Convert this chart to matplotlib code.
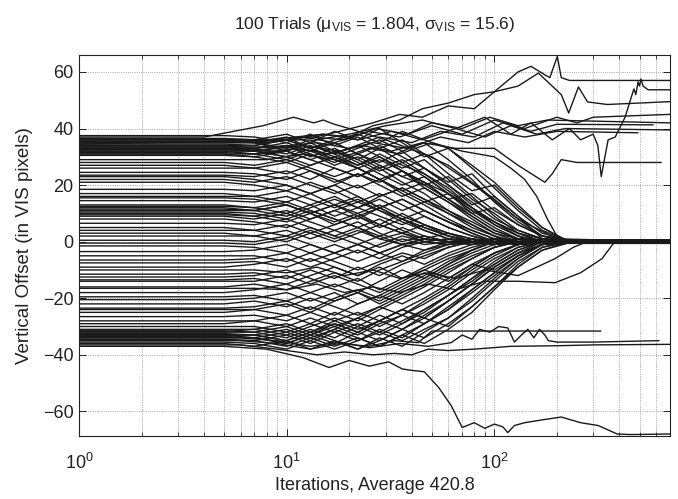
import matplotlib
matplotlib.use("Agg")
import matplotlib.pyplot as plt
from matplotlib.ticker import LogLocator, FixedLocator, NullFormatter

plt.rcParams.update({
    "font.family": ["Liberation Sans", "DejaVu Sans"],
    "mathtext.fontset": "custom",
    "mathtext.rm": "Liberation Sans",
    "mathtext.it": "Liberation Sans:italic",
    "font.size": 13,
})
INK = "#1a1a1a"

# ---- trials that settle near 0 (offsets read at shared iteration points) ----
grid_iters = [1, 5, 7, 10, 13, 17, 22, 28, 36, 46, 60, 78, 100, 130, 170, 230, 700]
conv_offsets = [
    [37.5, 37.5, 37, 35, 38, 34, 37, 33, 36, 31, 27, 21, 15, 8, 2, 0.4, 0.4],
    [36.5, 36.5, 36, 38, 35, 39, 36, 40, 35, 30, 33, 26, 19, 11, 4, 0, 0],
    [36, 36, 35, 33, 36, 32, 29, 33, 28, 31, 24, 18, 20, 12, 5, -0.4, -0.4],
    [35.5, 35.5, 35, 37, 33, 35, 31, 28, 32, 26, 21, 24, 16, 9, 1, 0, 0],
    [35, 35, 35, 32, 35, 31, 34, 30, 26, 29, 22, 15, 10, 4, 1, 0.5, 0.5],
    [34.5, 34.5, 34, 36, 33, 30, 33, 36, 32, 35, 29, 22, 14, 7, 2, 0, 0],
    [34, 34, 33, 34, 30, 33, 29, 25, 28, 23, 17, 11, 7, 2, -1, -0.5, -0.5],
    [33.5, 33.5, 33, 31, 34, 31, 27, 30, 25, 20, 23, 16, 9, 3, 0, 0, 0],
    [33, 33, 33, 35, 32, 35, 31, 34, 30, 26, 20, 13, 16, 9, 3, 0.3, 0.3],
    [33, 33, 32, 30, 27, 30, 26, 22, 25, 19, 14, 8, 3, 1, 0, 0, 0],
    [32.5, 32.5, 32, 34, 31, 28, 31, 27, 23, 26, 20, 14, 8, 4, 1, -0.3, -0.3],
    [32, 32, 31, 32, 29, 32, 28, 24, 20, 23, 17, 10, 5, 1, 0, 0, 0],
    [31.5, 31.5, 31, 29, 32, 29, 26, 29, 25, 21, 15, 17, 11, 6, 2, 0.6, 0.6],
    [31, 31, 30, 32, 29, 26, 23, 26, 21, 17, 11, 6, 2, -1, 1, 0, 0],
    [30.5, 30.5, 30, 28, 31, 27, 30, 26, 29, 24, 19, 12, 6, 2, 0, -0.6, -0.6],
    [34, 34, 34, 36, 33, 36, 38, 35, 39, 36, 33, 27, 21, 13, 5, 0, 0],
    [33, 33, 32, 30, 33, 29, 26, 22, 18, 21, 15, 9, 4, 1, 0, 0.2, 0.2],
    [28, 28, 27, 29, 26, 23, 26, 22, 18, 14, 17, 11, 6, 2, 0, 0, 0],
    [27, 27, 26, 24, 27, 30, 27, 31, 27, 24, 18, 12, 7, 3, 1, -0.2, -0.2],
    [26, 26, 26, 28, 25, 22, 19, 22, 17, 13, 8, 4, 1, 0, 0, 0, 0],
    [24.5, 24.5, 24, 22, 25, 21, 24, 20, 16, 19, 14, 9, 4, 1, -1, 0.4, 0.4],
    [23.5, 23.5, 23, 25, 22, 26, 23, 27, 23, 20, 15, 10, 12, 6, 2, 0, 0],
    [23, 23, 22, 20, 17, 20, 16, 12, 15, 11, 7, 3, 0, 1, 0, 0, 0],
    [22, 22, 21, 23, 20, 17, 20, 16, 19, 15, 10, 5, 2, -1, 0, -0.4, -0.4],
    [21, 21, 20, 18, 21, 18, 14, 17, 13, 9, 5, 2, 0, 1, 0, 0, 0],
    [18.5, 18.5, 18, 20, 17, 20, 24, 21, 25, 21, 17, 12, 7, 3, 0, 0.5, 0.5],
    [17, 17, 16, 14, 17, 13, 10, 13, 9, 6, 3, 1, -1, 0, 0, 0, 0],
    [16, 16, 16, 18, 15, 12, 15, 11, 8, 11, 7, 3, 0, 1, 0, 0, 0],
    [15.5, 15.5, 15, 13, 10, 13, 16, 12, 15, 11, 7, 4, 1, -1, 0, -0.5, -0.5],
    [14.5, 14.5, 14, 16, 13, 16, 12, 9, 6, 9, 5, 2, 0, 0, 0, 0, 0],
    [13, 13, 12, 10, 13, 9, 12, 15, 11, 14, 10, 6, 2, 0, 1, 0.3, 0.3],
    [12.5, 12.5, 12, 14, 11, 8, 5, 8, 4, 1, 3, 0, 1, 0, 0, 0, 0],
    [12, 12, 11, 13, 10, 13, 9, 12, 8, 5, 2, 0, -1, 0, 0, -0.3, -0.3],
    [11.5, 11.5, 11, 9, 12, 15, 12, 16, 19, 15, 11, 7, 3, 0, 0, 0, 0],
    [11, 11, 11, 13, 10, 7, 10, 6, 3, 6, 2, 0, 1, 0, 0, 0, 0],
    [10.5, 10.5, 10, 8, 11, 8, 5, 2, 5, 2, 0, 1, 0, -1, 0, 0.2, 0.2],
    [10, 10, 9, 11, 8, 11, 14, 11, 7, 4, 1, 0, 0, 0, 0, 0, 0],
    [9.5, 9.5, 9, 7, 10, 6, 9, 5, 8, 4, 1, 0, 1, 0, 0, 0, 0],
    [9, 9, 8, 10, 7, 4, 7, 3, 0, 2, 0, -1, 0, 1, 0, -0.2, -0.2],
    [8, 8, 7, 5, 8, 11, 8, 12, 8, 5, 2, 0, 0, 0, 0, 0, 0],
    [6.5, 6.5, 6, 8, 5, 2, 5, 1, 3, 0, 1, 0, -1, 0, 0, 0.6, 0.6],
    [5, 5, 4, 6, 3, 6, 9, 6, 10, 6, 3, 1, 0, 0, 0, 0, 0],
    [4, 4, 4, 2, 5, 2, -1, 2, -1, 1, 0, -1, 0, 1, 0, 0, 0],
    [3, 3, 2, 4, 1, 4, 1, -2, 1, -1, 0, 0, 0, 0, 0, -0.6, -0.6],
    [2, 2, 2, 0, 3, 0, 3, 6, 3, 1, 0, 1, 0, 0, 0, 0, 0],
    [0.5, 0.5, 0, 2, -1, -4, -1, -4, -1, 0, -1, 0, 1, 0, 0, 0.3, 0.3],
    [-0.5, -0.5, -1, 1, 4, 1, 4, 1, -1, 1, 0, 0, 0, 0, 0, 0, 0],
    [-1.5, -1.5, -2, -4, -1, -4, -7, -4, -7, -3, -1, 0, -1, 0, 0, -0.3, -0.3],
    [-3.5, -3.5, -3, -1, -4, -1, -4, -1, 2, 0, 1, 0, 0, 0, 0, 0, 0],
    [-5, -5, -5, -7, -4, -7, -10, -7, -4, -6, -2, 0, 0, -1, 0, 0.4, 0.4],
    [-6.5, -6.5, -6, -4, -7, -4, -1, -4, -1, -3, 0, -1, 0, 0, 0, 0, 0],
    [-7.5, -7.5, -7, -9, -6, -9, -12, -9, -13, -9, -5, -2, 0, 1, 0, -0.4, -0.4],
    [-9, -9, -8, -6, -9, -6, -3, -6, -2, 0, -1, 0, 0, 0, 0, 0, 0],
    [-11.5, -11.5, -11, -13, -10, -13, -9, -12, -8, -5, -2, 0, -1, 0, 0, 0.5, 0.5],
    [-12.5, -12.5, -12, -10, -13, -16, -13, -17, -13, -10, -6, -3, 0, 0, 0, 0, 0],
    [-13.5, -13.5, -13, -15, -12, -9, -12, -8, -5, -8, -4, -1, 0, -1, 0, -0.5, -0.5],
    [-14, -14, -14, -12, -15, -12, -15, -18, -14, -10, -13, -8, -4, -1, 0, 0, 0],
    [-16, -16, -15, -17, -14, -11, -14, -10, -7, -4, -1, 0, 1, 0, 0, 0.2, 0.2],
    [-18, -18, -17, -15, -18, -21, -18, -22, -18, -14, -9, -5, -2, 0, 0, 0, 0],
    [-19.5, -19.5, -19, -21, -18, -15, -18, -14, -10, -13, -8, -3, 0, -1, 0, -0.2, -0.2],
    [-20.5, -20.5, -20, -18, -21, -18, -22, -19, -15, -11, -14, -9, -4, -1, 0, 0, 0],
    [-22, -22, -21, -23, -20, -23, -26, -23, -19, -15, -10, -6, -2, 0, 1, 0.4, 0.4],
    [-23.5, -23.5, -23, -21, -24, -20, -17, -20, -16, -12, -7, -3, 0, 0, 0, 0, 0],
    [-24, -24, -24, -26, -23, -26, -22, -19, -22, -18, -13, -8, -10, -5, -1, -0.4, -0.4],
    [-25, -25, -24, -22, -25, -21, -18, -21, -17, -13, -8, -4, -1, 0, 0, 0, 0],
    [-26.5, -26.5, -26, -28, -25, -28, -31, -28, -24, -27, -21, -15, -9, -4, -1, 0.3, 0.3],
    [-28, -28, -28, -26, -29, -25, -28, -24, -20, -16, -11, -6, -2, 0, 0, 0, 0],
    [-29, -29, -28, -30, -27, -30, -27, -23, -26, -21, -16, -10, -5, -1, 0, -0.3, -0.3],
    [-30, -30, -30, -32, -29, -32, -35, -31, -34, -29, -24, -17, -11, -5, -1, 0, 0],
    [-31, -31, -31, -29, -32, -28, -25, -28, -24, -20, -15, -9, -4, -1, 0, 0.5, 0.5],
    [-31.5, -31.5, -32, -34, -31, -34, -30, -33, -29, -25, -19, -13, -7, -2, 0, 0, 0],
    [-31.8, -31.8, -31, -33, -30, -27, -30, -26, -29, -24, -19, -14, -8, -3, 0, -0.5, -0.5],
    [-32, -32, -32, -30, -33, -29, -32, -28, -24, -27, -21, -15, -9, -4, -1, 0, 0],
    [-32.5, -32.5, -33, -35, -32, -35, -38, -34, -37, -32, -27, -20, -13, -6, -1, 0.2, 0.2],
    [-32.8, -32.8, -33, -31, -34, -31, -27, -30, -26, -22, -17, -11, -6, -2, 0, 0, 0],
    [-33, -33, -34, -36, -33, -36, -32, -35, -31, -27, -30, -23, -16, -8, -2, -0.2, -0.2],
    [-33.2, -33.2, -33, -35, -32, -29, -32, -28, -31, -26, -21, -15, -9, -4, 0, 0, 0],
    [-33.5, -33.5, -34, -32, -35, -31, -34, -37, -33, -29, -23, -17, -11, -5, -1, 0.4, 0.4],
    [-34, -34, -34, -36, -33, -30, -33, -29, -26, -29, -24, -18, -12, -6, -1, 0, 0],
    [-34.5, -34.5, -35, -37, -34, -37, -34, -37, -33, -36, -31, -25, -17, -9, -3, -0.4, -0.4],
    [-34.8, -34.8, -35, -33, -36, -32, -29, -32, -28, -24, -19, -13, -8, -3, 0, 0, 0],
    [-35.5, -35.5, -36, -38, -35, -38, -35, -32, -35, -31, -27, -21, -14, -7, -2, 0.6, 0.6],
    [-36, -36, -37, -35, -38, -35, -38, -35, -31, -34, -29, -23, -16, -9, -3, 0, 0],
]

# ---- trials with their own paths ----
bump_iters = [1, 4, 7.7, 10.8, 13.5, 15, 16.8, 20, 30, 50, 80, 130, 200, 700]
bump_offset = [37, 37, 41, 44, 42, 43, 41.6, 40, 36, 30, 20, 8, 1, 0]

peak_iters = [1, 8, 15, 20, 26, 35, 45, 60, 80, 100, 130, 150, 175, 185, 201, 210, 230, 700]
peak_offset = [36, 36, 38, 37, 41, 43, 47, 49, 52, 53, 60, 62, 59, 58, 65.5, 58, 57, 57]

high_iters = [1, 12, 18, 26, 35, 45, 60, 80, 100, 130, 163, 190, 210, 228, 254, 281, 350, 700]
high_offset = [34.5, 36, 39, 42, 45, 44, 48, 47, 53, 55, 59.6, 55, 52, 45.5, 54.7, 49.4, 48.5, 49.5]

wild_iters = [1, 10, 14, 20, 30, 45, 65, 90, 120, 150, 190, 230, 260, 299, 315, 327,
              353, 382, 426, 456, 470, 480, 492, 500, 508, 520, 550, 700]
wild_offset = [32, 32, 36, 38, 41, 43, 40, 44, 38, 42, 36, 40, 36, 38, 34, 23,
               36, 37, 44, 51, 54, 52, 56.5, 55, 57.5, 55, 53.7, 53.7]

edge45_iters = [1, 8, 12, 17, 25, 35, 50, 70, 100, 140, 200, 250, 300, 700]
edge45_offset = [35, 35, 37, 35, 39, 37, 41, 38, 43, 40, 44, 42, 44, 45]

flat41_iters = [1, 9, 14, 20, 28, 40, 55, 80, 110, 150, 200, 580]
flat41_offset = [33.5, 33.5, 35, 33, 37, 35, 39, 37, 42, 39, 41.5, 41.3]

edge39_iters = [1, 10, 15, 22, 32, 45, 65, 90, 120, 160, 220, 700]
edge39_offset = [36.5, 36, 38, 36, 39, 36, 40, 37, 41, 38, 40, 39.5]

flat38_iters = [1, 8, 12, 18, 26, 38, 55, 75, 100, 140, 200, 490]
flat38_offset = [32.5, 32.5, 34, 32, 35, 33, 37, 35, 39, 37, 39, 38.5]

edge42_iters = [1, 8, 13, 19, 27, 38, 50, 70, 95, 130, 180, 700]
edge42_offset = [35.5, 35.5, 37, 36, 40, 38, 42, 40, 44, 41, 43, 42]

flat28_iters = [1, 7, 11, 16, 23, 32, 45, 65, 100, 130, 175, 190, 210, 250, 635]
flat28_offset = [31, 31, 33, 31, 34, 32, 35, 33, 33, 27, 21, 24, 29, 28, 28]

drop_iters = [1, 8, 12, 17, 25, 35, 50, 70, 100, 120, 140, 160, 180, 200, 230, 700]
drop_offset = [29, 29, 31, 29, 33, 31, 35, 32, 30, 26, 22, 16, 8, 2, 0, 0]

bottom_iters = [1, 5, 8, 12, 16, 20, 25, 31, 36, 40, 46, 54, 62, 70, 80, 90, 100,
                110, 116, 125, 140, 170, 210, 260, 316, 390, 450, 700]
bottom_offset = [-37, -37, -38, -41, -44.5, -42, -44, -42.5, -45, -45.5, -46, -51.6, -58, -65.7, -64, -66, -64.5,
                 -65.5, -67.5, -65, -64, -63, -62, -64, -65, -68, -68.2, -68]

low37_iters = [1, 6, 9, 14, 19, 26, 33, 40, 48, 60, 80, 120, 200, 300, 700]
low37_offset = [-36.5, -36.5, -38, -40, -39, -40, -39.5, -40, -38, -38.5, -38, -37, -36.8, -36.5, -36.3]

flat32_iters = [1, 6, 9, 13, 18, 25, 33, 43, 50, 325]
flat32_offset = [-35, -35, -36, -38, -36, -37, -35, -35.7, -31.6, -31.6]

wiggle35_iters = [1, 6, 9, 13, 18, 25, 35, 48, 62, 70, 78, 85, 95, 105, 116, 125,
                  135, 145, 155, 165, 175, 182, 200, 300, 620]
wiggle35_offset = [-34, -34, -35, -37, -35.5, -37.5, -36, -37, -35.7, -33, -34.5, -31, -32, -30, -30.5, -35.5,
                   -33, -31, -34, -31, -33, -35, -35.5, -35.5, -35]

late1_iters = [1, 7, 10, 14, 19, 26, 35, 48, 65, 90, 130, 160, 196, 240, 280, 700]
late1_offset = [-10, -10, -11, -9, -12, -10, -13, -11, -13, -10, -12, -9, -6, -2, 0, 0]

late2_iters = [1, 7, 10, 14, 19, 26, 35, 48, 65, 90, 130, 196, 260, 330, 380, 700]
late2_offset = [-16.5, -16.5, -17, -15, -18, -16, -18, -15, -17, -14, -14, -14.5, -11, -6, 0, 0]

y_ticks = [-60, -40, -20, 0, 20, 40, 60]

paths = [(bump_iters, bump_offset), (peak_iters, peak_offset), (high_iters, high_offset),
         (wild_iters, wild_offset), (edge45_iters, edge45_offset), (flat41_iters, flat41_offset),
         (edge39_iters, edge39_offset), (flat38_iters, flat38_offset), (edge42_iters, edge42_offset),
         (flat28_iters, flat28_offset), (drop_iters, drop_offset), (bottom_iters, bottom_offset),
         (low37_iters, low37_offset), (flat32_iters, flat32_offset), (wiggle35_iters, wiggle35_offset),
         (late1_iters, late1_offset), (late2_iters, late2_offset)]

fig = plt.figure(figsize=(6.78, 4.99), dpi=100)
ax = fig.add_axes([0.1165, 0.1263, 0.8715, 0.7635])

for row in conv_offsets:
    ax.plot(grid_iters, row, color=INK, lw=1.0)
for xs, ys in paths:
    ax.plot(xs, ys, color=INK, lw=1.0)

ax.set_xscale("log")
ax.set_xlim(1, 700)
ax.set_ylim(-68.7, 66)
ax.yaxis.set_major_locator(FixedLocator(y_ticks))
ax.xaxis.set_major_locator(LogLocator(base=10))
ax.xaxis.set_minor_locator(LogLocator(base=10, subs=range(2, 10)))
ax.xaxis.set_minor_formatter(NullFormatter())

ax.grid(True, which="major", ls=":", color="0.55", lw=0.6)
ax.grid(True, which="minor", axis="x", ls=":", color="0.55", lw=0.6)
ax.tick_params(which="both", direction="in", top=True, right=True, colors="#222222",
               labelsize=13)
ax.tick_params(which="major", length=5, width=0.7)
ax.tick_params(which="minor", length=3, width=0.6)
ax.tick_params(axis="x", pad=12)
ax.tick_params(axis="y", pad=4)
for s in ax.spines.values():
    s.set_linewidth(0.8)
    s.set_color("#222222")

ax.set_title(r"100 Trials (μ$_{\mathrm{VIS}}$ = 1.804, σ$_{\mathrm{VIS}}$ = 15.6)",
             fontsize=12.5, pad=19, color="#222222")
ax.set_xlabel("Iterations, Average 420.8", fontsize=13, color="#222222", labelpad=3)
ax.set_ylabel("Vertical Offset (in VIS pixels)", fontsize=13.5, color="#222222", labelpad=7)

fig.savefig("out.png", dpi=100)
